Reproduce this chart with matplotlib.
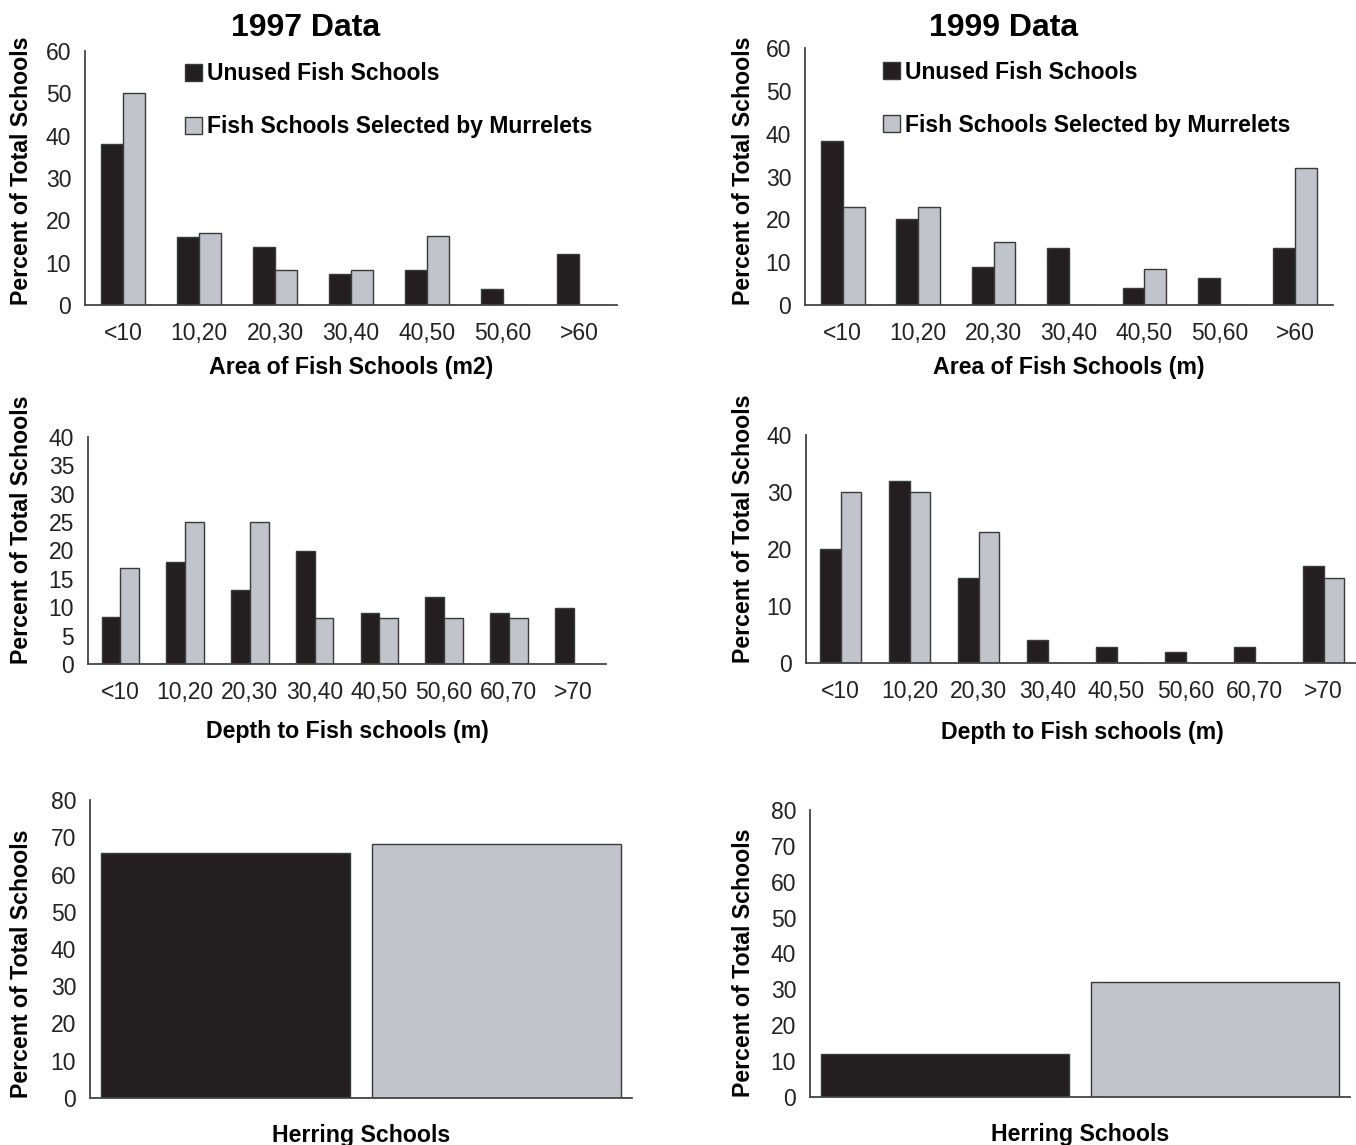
import numpy as np
import matplotlib
matplotlib.use('Agg')
import matplotlib.pyplot as plt

plt.rcParams['font.family'] = ['Liberation Sans', 'DejaVu Sans']

# data
area_cats = ['<10', '10,20', '20,30', '30,40', '40,50', '50,60', '>60']
depth_cats = ['<10', '10,20', '20,30', '30,40', '40,50', '50,60', '60,70', '>70']

area97_unused = [38, 16, 13.7, 7.3, 8.2, 3.8, 12]
area97_sel = [50, 17, 8.2, 8.2, 16.3, 0, 0]
area99_unused = [38.2, 20.1, 8.9, 13.2, 4.0, 6.2, 13.2]
area99_sel = [22.9, 22.9, 14.7, 0, 8.4, 0, 32]

depth97_unused = [8.2, 18, 13, 20, 9, 11.8, 9, 9.8]
depth97_sel = [17, 25, 25, 8.1, 8.1, 8.1, 8.1, 0]
depth99_unused = [20, 32, 15, 4, 2.8, 2, 2.8, 17]
depth99_sel = [30, 30, 23, 0, 0, 0, 0, 15]

herring97 = [65.8, 68.2]
herring99 = [12.1, 32.1]

labels = ['Unused Fish Schools', 'Fish Schools Selected by Murrelets']
c_unused = '#231f20'
c_sel = '#c1c4cb'
edge = '#3a3a3a'
lab_fs = 16.7

W, H = 1356, 1145
fig = plt.figure(figsize=(W/100., H/100.), dpi=100)

def box(l, t, r, b):
    return fig.add_axes([l/W, 1-b/H, (r-l)/W, (b-t)/H])

def style(ax, ymax, ystep):
    for s in ['top', 'right']:
        ax.spines[s].set_visible(False)
    for s in ['left', 'bottom']:
        ax.spines[s].set_color('#444444')
        ax.spines[s].set_linewidth(1.3)
    ax.set_ylim(0, ymax)
    ax.set_yticks(np.arange(0, ymax+1, ystep))
    ax.tick_params(axis='both', length=0, labelsize=16.5, colors='#222222')
    ax.tick_params(axis='y', pad=10)
    ax.tick_params(axis='x', pad=12)

def grouped(ax, cats, a, b, ymax, ystep, xlabel, ylab_x, lpad):
    x = np.arange(len(cats))
    w = 0.29
    ax.bar(x-w/2, a, w, color=c_unused, edgecolor=edge, linewidth=1, label=labels[0])
    ax.bar(x+w/2, b, w, color=c_sel, edgecolor=edge, linewidth=1, label=labels[1])
    ax.set_xlim(-0.5, len(cats)-0.5)
    ax.set_xticks(x)
    ax.set_xticklabels(cats)
    style(ax, ymax, ystep)
    ax.set_xlabel(xlabel, fontsize=lab_fs, fontweight='bold', labelpad=lpad)
    ax.set_ylabel('Percent of Total Schools', fontsize=lab_fs, fontweight='bold', loc='bottom')
    ax.yaxis.set_label_coords(ylab_x, 0)

def herring(ax, vals, ylab_x):
    w = 0.46
    ax.bar([-0.25], [vals[0]], w, color=c_unused, edgecolor=edge, linewidth=1)
    ax.bar([0.25], [vals[1]], w, color=c_sel, edgecolor=edge, linewidth=1)
    ax.set_xlim(-0.5, 0.5)
    ax.set_xticks([])
    style(ax, 80, 10)
    ax.set_xlabel('Herring Schools', fontsize=lab_fs, fontweight='bold', labelpad=19)
    ax.set_ylabel('Percent of Total Schools', fontsize=lab_fs, fontweight='bold', loc='bottom')
    ax.yaxis.set_label_coords(ylab_x, 0)

ax1 = box(85, 51, 617, 305)
grouped(ax1, area_cats, area97_unused, area97_sel, 60, 10, 'Area of Fish Schools (m2)', (33-85)/532., 8)
ax2 = box(805, 48, 1333, 305)
grouped(ax2, area_cats, area99_unused, area99_sel, 60, 10, 'Area of Fish Schools (m)', (755-805)/528., 8)

for ax, xa, ya in [(ax1, 0.188, 0.955), (ax2, 0.148, 0.95)]:
    ax.legend(loc='upper left', bbox_to_anchor=(xa, ya), frameon=False,
              prop={'size': 16.5, 'weight': 'bold'}, handlelength=0.75, handleheight=0.75,
              handletextpad=0.2, labelspacing=1.3, borderpad=0, borderaxespad=0)

ax3 = box(88, 437, 606, 664)
grouped(ax3, depth_cats, depth97_unused, depth97_sel, 40, 5, 'Depth to Fish schools (m)', (33-88)/518., 12)
ax4 = box(806, 435, 1358, 663)
grouped(ax4, depth_cats, depth99_unused, depth99_sel, 40, 10, 'Depth to Fish schools (m)', (755-806)/552., 13)

ax5 = box(90, 800, 632, 1098)
herring(ax5, herring97, (33-90)/542.)
ax6 = box(810, 810, 1350, 1097)
herring(ax6, herring99, (755-810)/540.)

fig.text(306/W, 1-28/H, '1997 Data', ha='center', va='center', fontsize=23, fontweight='bold')
fig.text(1004/W, 1-28/H, '1999 Data', ha='center', va='center', fontsize=23, fontweight='bold')

plt.savefig('out.png', dpi=100)
